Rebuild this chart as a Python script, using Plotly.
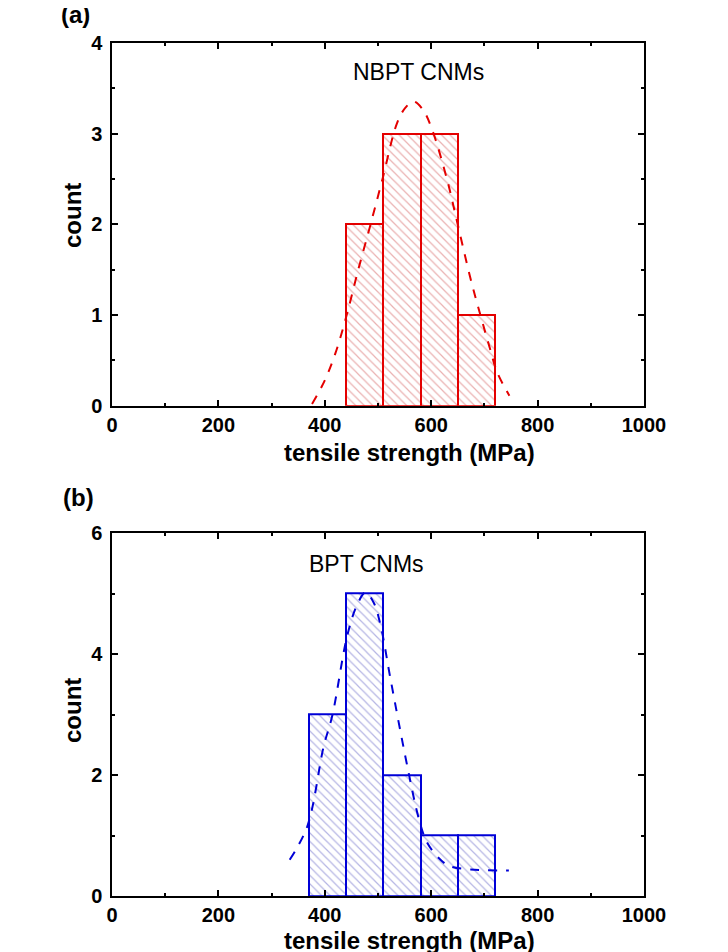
import plotly.graph_objects as go
from plotly.subplots import make_subplots

# ---- data ----
bin_centers_a = [475, 545, 615, 685]
counts_a = [2, 3, 3, 1]
fit_x_a = [376, 400, 420, 440, 462, 486, 508, 536, 552, 567, 585, 602, 630, 649, 674, 693, 710, 724, 747]
fit_y_a = [0.02, 0.28, 0.58, 0.975, 1.48, 2.0, 2.49, 3.12, 3.29, 3.355, 3.26, 3.04, 2.49, 2.02, 1.40, 0.99, 0.64, 0.37, 0.11]

bin_centers_b = [405, 475, 545, 615, 685]
counts_b = [3, 5, 2, 1, 1]
fit_x_b = [334, 367, 398, 414, 442, 460, 476.5, 492, 505, 523.5, 555, 577, 592.5, 617.5, 636, 674, 746]
fit_y_b = [0.60, 1.15, 2.48, 2.98, 4.30, 4.80, 5.02, 4.85, 4.47, 3.59, 2.15, 1.27, 0.88, 0.60, 0.49, 0.44, 0.42]

bin_width = 70
x_ticks = [0, 200, 400, 600, 800, 1000]
labels = ["NBPT CNMs", "BPT CNMs"]

RED = "rgb(228,0,0)"
BLUE = "rgb(0,0,215)"
FONT = "Liberation Sans Narrow, Arial Narrow, Liberation Sans, Arial"

W, H = 728, 952
OFF = 8  # page body margin
ML, MT = 112 - OFF, 43 - OFF
PW, PH = 532, 853
MR = W - ML - PW
MB = H - MT - PH

fig = make_subplots(rows=2, cols=1, vertical_spacing=127.5 / PH)

fig.add_trace(go.Bar(x=bin_centers_a, y=counts_a, width=bin_width,
                     marker=dict(color="rgba(0,0,0,0)", line=dict(color=RED, width=2),
                                 pattern=dict(shape="\\", fgcolor="rgba(205,70,70,0.85)",
                                              bgcolor="rgba(0,0,0,0)", size=6, solidity=0.2,
                                              fillmode="overlay")),
                     showlegend=False), row=1, col=1)
fig.add_trace(go.Scatter(x=fit_x_a, y=fit_y_a, mode="lines", line_shape="spline",
                         line=dict(color=RED, width=2, dash="dash"), showlegend=False), row=1, col=1)

fig.add_trace(go.Bar(x=bin_centers_b, y=counts_b, width=bin_width,
                     marker=dict(color="rgba(0,0,0,0)", line=dict(color=BLUE, width=2),
                                 pattern=dict(shape="\\", fgcolor="rgba(80,80,190,0.85)",
                                              bgcolor="rgba(0,0,0,0)", size=6, solidity=0.2,
                                              fillmode="overlay")),
                     showlegend=False), row=2, col=1)
fig.add_trace(go.Scatter(x=fit_x_b, y=fit_y_b, mode="lines", line_shape="spline",
                         line=dict(color=BLUE, width=2, dash="dash"), showlegend=False), row=2, col=1)

axis_common = dict(showline=True, linecolor="black", linewidth=1.5, mirror="allticks",
                   ticks="inside", ticklen=6, tickwidth=1.5, tickcolor="black",
                   showgrid=False, zeroline=False,
                   tickfont=dict(family=FONT, size=20, color="black", weight="bold"))

for r in (1, 2):
    fig.update_xaxes(range=[0, 1000], tickvals=x_ticks, ticklabelstandoff=0,
                     minor=dict(dtick=100, ticks="inside", ticklen=3, tickcolor="black"),
                     row=r, col=1, **axis_common)
fig.update_yaxes(range=[0, 4], dtick=1, ticklabelstandoff=4,
                 minor=dict(dtick=0.5, ticks="inside", ticklen=3, tickcolor="black"),
                 row=1, col=1, **axis_common)
fig.update_yaxes(range=[0, 6], dtick=2, ticklabelstandoff=4,
                 minor=dict(dtick=1, ticks="inside", ticklen=3, tickcolor="black"),
                 row=2, col=1, **axis_common)

fig.update_layout(
    width=W, height=H,
    margin=dict(l=ML, r=MR, t=MT, b=MB),
    paper_bgcolor="white", plot_bgcolor="white",
    bargap=0,
)


def px_to_paper(px, py):
    # px, py are page pixels (figure is offset by the page body margin)
    return (px - OFF - ML) / PW, (H - MB - (py - OFF)) / PH


title_font = dict(family=FONT, size=24, color="black", weight="bold")
panel_font = dict(family=FONT, size=24, color="black", weight="bold")
annots = []
for txt, (px, py) in [("(a)", (75, 14)), ("(b)", (78, 497))]:
    xp, yp = px_to_paper(px, py)
    annots.append(dict(text=txt, x=xp, y=yp, xref="paper", yref="paper", showarrow=False,
                       font=panel_font, xanchor="center", yanchor="middle"))
for px, py in [(409, 452), (409, 940)]:
    xp, yp = px_to_paper(px, py)
    annots.append(dict(text="tensile strength (MPa)", x=xp, y=yp, xref="paper", yref="paper",
                       showarrow=False, font=title_font, xanchor="center", yanchor="middle"))
for px, py in [(72, 216), (72, 711)]:
    xp, yp = px_to_paper(px, py)
    annots.append(dict(text="count", x=xp, y=yp, xref="paper", yref="paper", textangle=-90,
                       showarrow=False, font=title_font, xanchor="center", yanchor="middle"))
annots.append(dict(text=labels[0], x=576, y=3.68, xref="x", yref="y", showarrow=False,
                   font=dict(family="Liberation Sans, Arial", size=23, color="black")))
annots.append(dict(text=labels[1], x=478, y=5.49, xref="x2", yref="y2", showarrow=False,
                   font=dict(family="Liberation Sans, Arial", size=23, color="black")))
fig.update_layout(annotations=annots)

fig.write_html("out.html")
